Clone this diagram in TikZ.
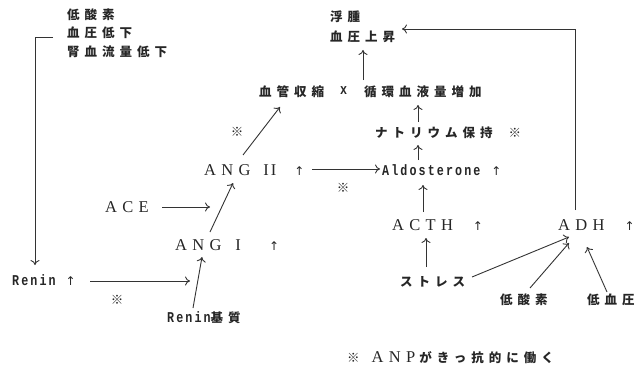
\documentclass[tikz,border=0pt]{standalone}
\usepackage{fontspec}
\usetikzlibrary{arrows.meta}
\newfontfamily\jpf[LetterSpace=40]{Noto Sans CJK JP}
\newfontfamily\serf[LetterSpace=32]{Liberation Serif}
\newfontfamily\serpf{Liberation Serif}
\newfontfamily\monof[LetterSpace=14,FakeStretch=0.78]{Liberation Mono}
\newfontfamily\symf{DejaVu Sans}
\newcommand\jp{\jpf\bfseries\fontsize{12.5}{15}\selectfont}
\newcommand\ser{\serf\mdseries\fontsize{16.5}{18}\selectfont}
\newcommand\twoI{{\serpf\mdseries\fontsize{16.5}{18}\selectfont I\kern2pt I}}
\newcommand\mono{\monof\bfseries\fontsize{15}{17}\selectfont}
\newcommand\upa{{\symf\mdseries\fontsize{12}{12}\selectfont ↑}}
\tikzset{
  lbl/.style={anchor=west,inner sep=0pt,text=black!85},
  arr/.style={-{To[length=5pt,width=9pt]},line width=0.9pt,draw=black!80},
  kome/.style={font=\jp,inner sep=0pt,text=black!85},
}
\begin{document}
\begin{tikzpicture}[x=1pt,y=-1pt]
\useasboundingbox (0,0) rectangle (637,369);
% left conditions
\node[lbl,font=\jp] (l1) at (67,15) {低酸素};
\node[lbl,font=\jp] (l2) at (67,33) {血圧低下};
\node[lbl,font=\jp] (l3) at (67,52) {腎血流量低下};
% top
\node[lbl,font=\jp] (fushu) at (330,17) {浮腫};
\node[lbl,font=\jp] (ketsu) at (330,37) {血圧上昇};
\node[lbl,font=\jp] (vaso) at (259,92) {血管収縮};
\node[lbl,font=\mono] (xx) at (340,91) {x};
\node[lbl,font=\jp] (circ) at (364,92) {循環血液量増加};
\node[lbl,font=\jp] (natr) at (375,133) {ナトリウム保持\hspace{16pt}※};
\node[lbl,font=\mono] (aldo) at (382,170) {Aldosterone\hspace{11pt}\upa};
\node[lbl,font=\ser] (ang2) at (204,170) {ANG\hspace{13pt}\twoI\hspace{18pt}\upa};
\node[lbl,font=\ser] (ace) at (105,207) {ACE};
\node[lbl,font=\ser] (ang1) at (175,245) {ANG\hspace{14pt}I\hspace{28pt}\upa};
\node[lbl,font=\mono] (renin) at (12,280) {Renin\hspace{10pt}\upa};
\node[lbl,font=\mono] (subs) at (167,318) {Renin{\jp 基質}};
\node[lbl,font=\ser] (acth) at (392,225) {ACTH\hspace{20pt}\upa};
\node[lbl,font=\ser] (adh) at (558,225) {ADH\hspace{20pt}\upa};
\node[lbl,font=\jp] (stress) at (400,282) {ストレス};
\node[lbl,font=\jp] (hypo) at (500,300) {低酸素};
\node[lbl,font=\jp] (hypot) at (587,300) {低血圧};
\node[lbl,font=\jp] (note) at (347,358) {※\hspace{12pt}{\ser ANP}\hspace{4pt}がきっ抗的に働く};
% marks
\node[kome] (m1) at (237,132) {※};
\node[kome] (m2) at (343,188) {※};
\node[kome] (m3) at (117,300) {※};
% connectors
\draw[arr] ([shift={(-14,4)}]l2.west) -| ([shift={(23,-15)}]renin.west);
\draw[arr] ([shift={(78,1)}]renin.west) -- ([shift={(15,36)}]ang1.west);
\draw[arr] ([shift={(26,-10)}]subs.west) -- ([shift={(27,12)}]ang1.west);
\draw[arr] ([shift={(57,0)}]ace.west) -- ([shift={(105,0)}]ace.west);
\draw[arr] ([shift={(35,-13)}]ang1.west) -- ([shift={(29,13)}]ang2.west);
\draw[arr] ([shift={(39,-15)}]ang2.west) -- ([shift={(21,15)}]vaso.west);
\draw[arr] ([shift={(108,-1)}]ang2.west) -- ([shift={(-2,-1)}]aldo.west);
\draw[arr] ([shift={(36,-10)}]aldo.west) -- ([shift={(43,12)}]natr.west);
\draw[arr] ([shift={(43,-11)}]natr.west) -- ([shift={(54,13)}]circ.west);
\draw[arr] ([shift={(-1,-12)}]circ.west) -- ([shift={(33,13)}]ketsu.west);
\draw[arr] ([shift={(17,-15)}]adh.west) |- ([shift={(72,-8)}]ketsu.west);
\draw[arr] ([shift={(26,-15)}]stress.west) -- ([shift={(34,13)}]acth.west);
\draw[arr] ([shift={(31,-13)}]acth.west) -- ([shift={(41,15)}]aldo.west);
\draw[arr] ([shift={(72,-5)}]stress.west) -- ([shift={(11,12)}]adh.west);
\draw[arr] ([shift={(30,-12)}]hypo.west) -- ([shift={(11,18)}]adh.west);
\draw[arr] ([shift={(20,-8)}]hypot.west) -- ([shift={(29,22)}]adh.west);
\end{tikzpicture}
\end{document}
